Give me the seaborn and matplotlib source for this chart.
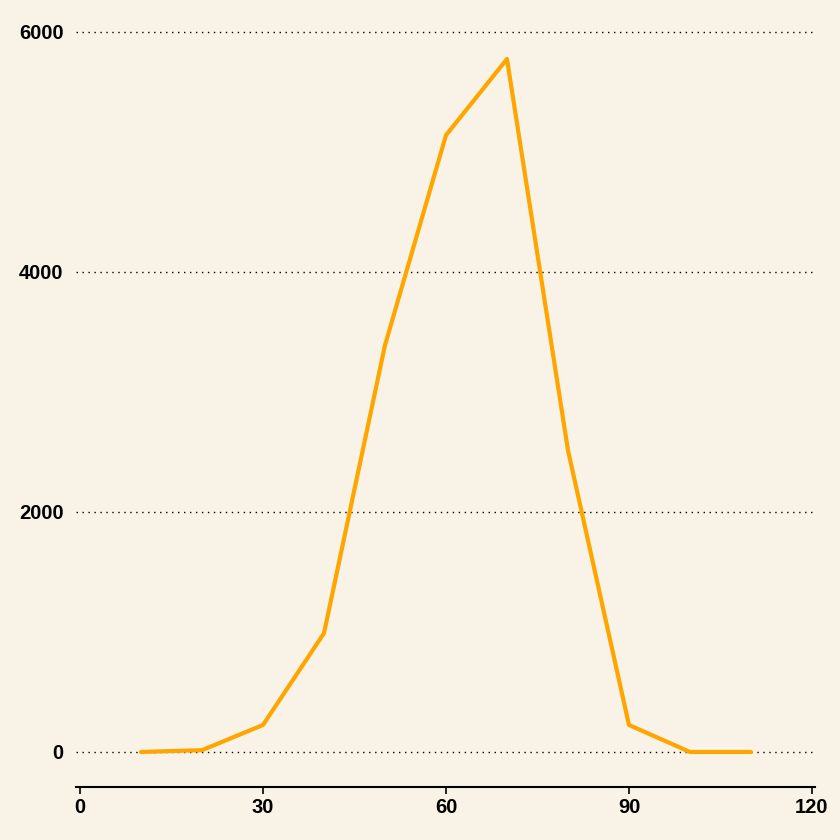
import matplotlib
matplotlib.use("Agg")
import matplotlib.pyplot as plt
import seaborn as sns
import pandas as pd

x_vals = [10, 20, 30, 40, 50, 60, 70, 80, 90, 100, 110]
y_vals = [0, 15, 225, 990, 3390, 5140, 5775, 2515, 225, 0, 0]
x_ticks = [0, 30, 60, 90, 120]
y_ticks = [0, 2000, 4000, 6000]

df = pd.DataFrame({"x": x_vals, "y": y_vals})

sns.set_theme(style="white")
plt.rcParams['font.family'] = ['Liberation Sans', 'DejaVu Sans']
bg = "#F8F3E6"

fig = plt.figure(figsize=(8.4, 8.4), dpi=100, facecolor=bg)
ax = fig.add_axes([76/840, (840-787)/840, (815-76)/840, (787-2)/840])
ax.set_facecolor(bg)

sns.lineplot(data=df, x="x", y="y", ax=ax, color="#FFA500", linewidth=3.0)

ax.set_xlim(-0.66, 120.5)
ax.set_ylim(-292, 6250)
ax.set_xticks(x_ticks)
ax.set_yticks(y_ticks)
ax.set_xticklabels([str(t) for t in x_ticks], fontweight="bold", fontsize=14.5)
ax.set_yticklabels([str(t) for t in y_ticks], fontweight="bold", fontsize=14.5)
ax.set_xlabel("")
ax.set_ylabel("")

for yt in y_ticks:
    ax.axhline(yt, color="black", linestyle=(0, (1, 3.3)), linewidth=1.0, zorder=0)

for s in ["top", "right", "left"]:
    ax.spines[s].set_visible(False)
ax.spines["bottom"].set_color("black")
ax.spines["bottom"].set_linewidth(1.5)
ax.tick_params(axis="x", length=5, width=1.2, color="black", pad=3, bottom=True, labelcolor="black")
ax.tick_params(axis="y", length=0, pad=9, labelcolor="black")
ax.grid(False)

fig.savefig("out.png", dpi=100, facecolor=bg)
